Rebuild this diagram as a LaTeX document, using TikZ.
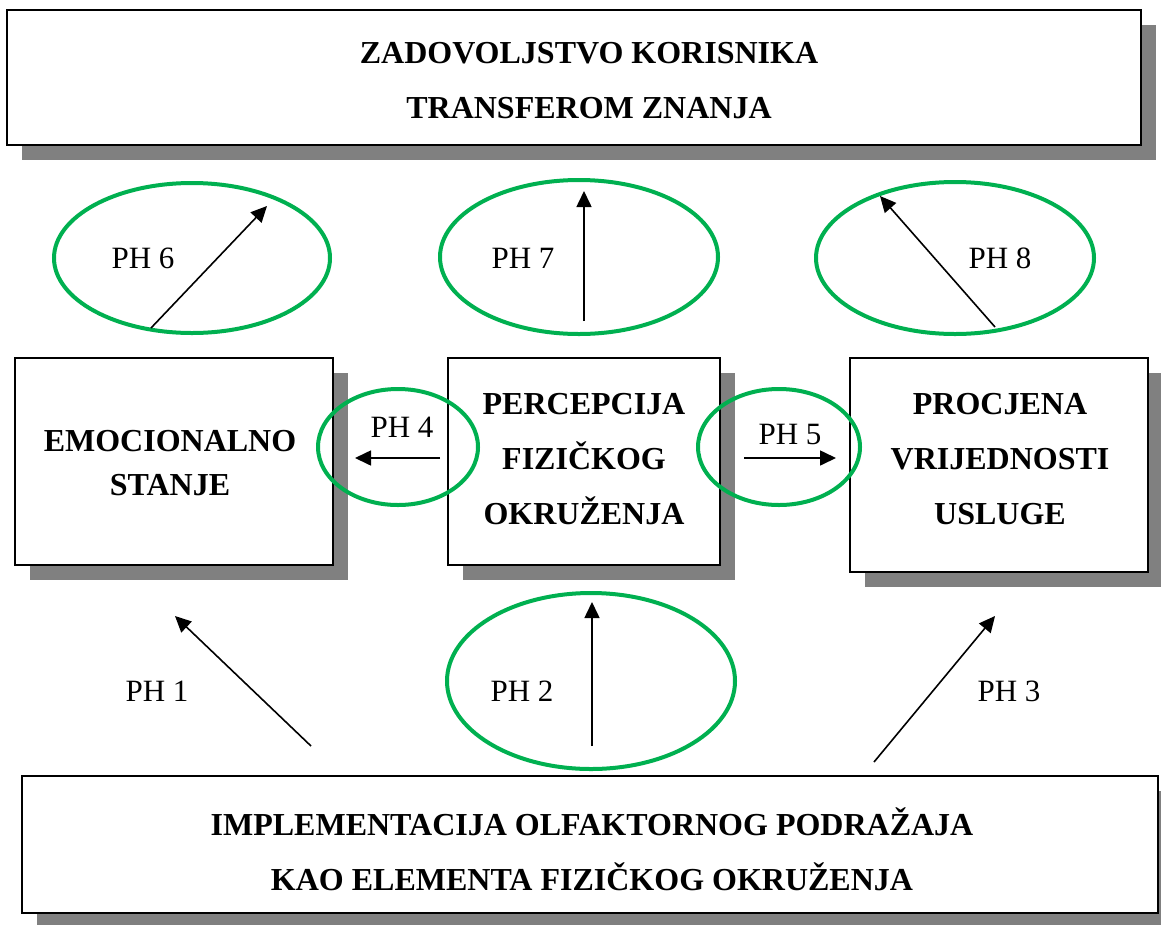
\documentclass[tikz,border=0pt]{standalone}
\usepackage{fontspec}
\setmainfont{Liberation Serif}
\usetikzlibrary{arrows.meta,shadows,shapes.geometric}
\definecolor{ellgreen}{RGB}{0,176,80}
\definecolor{shadowgray}{RGB}{128,128,128}
\begin{document}
\begin{tikzpicture}[x=1pt,y=-1pt,
  box/.style={draw=black, line width=2pt, fill=white, inner sep=0pt, outer sep=0pt,
    drop shadow={shadow xshift=15pt, shadow yshift=-15pt, fill=shadowgray, opacity=1}},
  boxtext/.style={align=center, inner sep=0pt, font=\bfseries\fontsize{32}{55}\selectfont},
  ell/.style={ellipse, draw=ellgreen, line width=4pt, inner sep=0pt},
  phlabel/.style={inner sep=0pt, font=\fontsize{31}{36}\selectfont},
  arr/.style={line width=1.6pt, -{Triangle[length=16pt,width=15pt]}}]
\useasboundingbox (0,0) rectangle (1161,924);
% boxes
\node[box, minimum width=1134pt, minimum height=135pt] (top) at (574,77.5) {};
\node[box, minimum width=318pt, minimum height=207pt] (emo) at (174,461.5) {};
\node[box, minimum width=272pt, minimum height=207pt] (perc) at (584,461.5) {};
\node[box, minimum width=298pt, minimum height=214pt] (proc) at (999,465) {};
\node[box, minimum width=1136pt, minimum height=137pt] (bot) at (590,844.5) {};
% box texts
\node[boxtext] (toptext) at (589,80.5) {ZADOVOLJSTVO KORISNIKA\\TRANSFEROM ZNANJA};
\node[boxtext, font=\bfseries\fontsize{32}{44}\selectfont] (emotext) at (170,463) {EMOCIONALNO\\STANJE};
\node[boxtext] (perctext) at (584,459) {PERCEPCIJA\\FIZIČKOG\\OKRUŽENJA};
\node[boxtext] (proctext) at (1000,459.5) {PROCJENA\\VRIJEDNOSTI\\USLUGE};
\node[boxtext] (bottext) at (592,849.5) {IMPLEMENTACIJA OLFAKTORNOG PODRAŽAJA\\KAO ELEMENTA FIZIČKOG OKRUŽENJA};
% ellipses
\node[ell, minimum width=276pt, minimum height=150pt] (e6) at (192,258) {};
\node[ell, minimum width=278pt, minimum height=154pt] (e7) at (579,257) {};
\node[ell, minimum width=278pt, minimum height=152pt] (e8) at (955,258) {};
\node[ell, minimum width=160pt, minimum height=116pt] (e4) at (398,447) {};
\node[ell, minimum width=162pt, minimum height=116pt] (e5) at (779,447) {};
\node[ell, minimum width=288pt, minimum height=176pt] (e2) at (591,681) {};
% labels
\node[phlabel] (ph6) at (143,258) {PH 6};
\node[phlabel] (ph7) at (523,258) {PH 7};
\node[phlabel] (ph8) at (1000,258) {PH 8};
\node[phlabel] (ph4) at (402,427) {PH 4};
\node[phlabel] (ph5) at (790,434) {PH 5};
\node[phlabel] (ph1) at (157,691) {PH 1};
\node[phlabel] (ph2) at (522,691) {PH 2};
\node[phlabel] (ph3) at (1009,691) {PH 3};
% arrow end points
\coordinate (a6s) at (151,328); \coordinate (a6e) at (267,206);
\coordinate (a7s) at (584,321); \coordinate (a7e) at (584,191);
\coordinate (a8s) at (995,327); \coordinate (a8e) at (880,196);
\coordinate (a4s) at (440,458); \coordinate (a4e) at (355,458);
\coordinate (a5s) at (744,458); \coordinate (a5e) at (836,458);
\coordinate (a1s) at (311,746); \coordinate (a1e) at (175,616);
\coordinate (a2s) at (592,746); \coordinate (a2e) at (592,602);
\coordinate (a3s) at (874,762); \coordinate (a3e) at (995,616);
\draw[arr] (a6s) -- (a6e);
\draw[arr] (a7s) -- (a7e);
\draw[arr] (a8s) -- (a8e);
\draw[arr] (a4s) -- (a4e);
\draw[arr] (a5s) -- (a5e);
\draw[arr] (a1s) -- (a1e);
\draw[arr] (a2s) -- (a2e);
\draw[arr] (a3s) -- (a3e);
\end{tikzpicture}
\end{document}
